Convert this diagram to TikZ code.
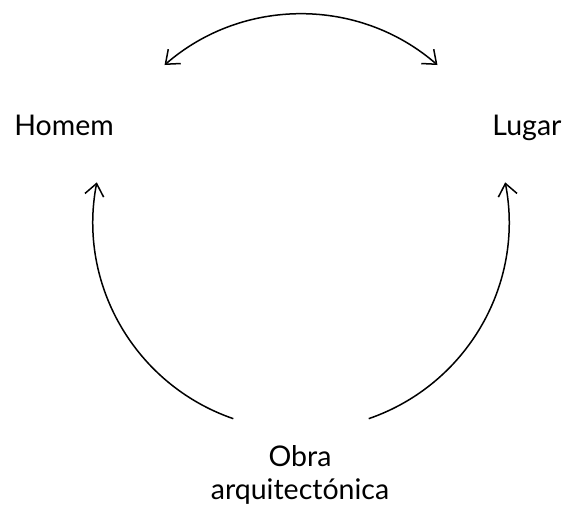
\documentclass[tikz,border=0pt]{standalone}
\usepackage{fontspec}
\setmainfont{Lato}
\usetikzlibrary{arrows.meta,calc}
\begin{document}
\begin{tikzpicture}[x=1pt,y=1pt,
  conn/.style={line width=1.5pt},
  lbl/.style={font=\fontsize{28.5}{34}\selectfont, anchor=base, inner sep=0pt}]
\useasboundingbox (0,0) rectangle (566,515);
\coordinate (c) at (301,293);
\node[lbl] (homem) at (64,379) {Homem};
\node[lbl] (lugar) at (527,379) {Lugar};
\node[lbl] (obra) at (300,48) {Obra};
\node[lbl] (arq) at (300,15) {arquitectónica};
\coordinate (t1) at ($(c)+(131:208)$);
\coordinate (l1) at ($(c)+(251:208)$);
\coordinate (r1) at ($(c)+(289:208)$);
\draw[conn, {Straight Barb[length=12pt,width=19pt,line width=1.5pt]}-{Straight Barb[length=12pt,width=19pt,line width=1.5pt]}] (t1) arc[start angle=131, end angle=49, radius=208];
\draw[conn, -{Straight Barb[length=12pt,width=19pt,line width=1.5pt]}] (l1) arc[start angle=251, end angle=169, radius=208];
\draw[conn, -{Straight Barb[length=12pt,width=19pt,line width=1.5pt]}] (r1) arc[start angle=289, end angle=371, radius=208];
\end{tikzpicture}
\end{document}
